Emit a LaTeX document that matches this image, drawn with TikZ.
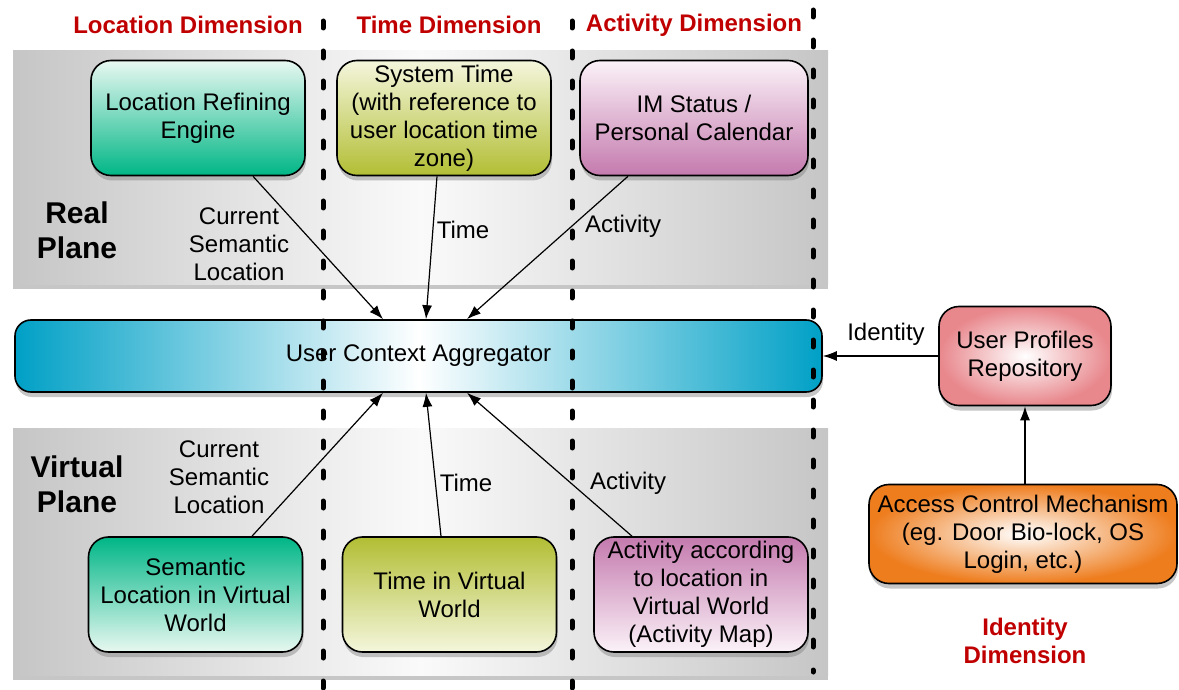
\documentclass[tikz,border=0pt]{standalone}
\usepackage{fontspec}
\setmainfont{Liberation Sans}
\usetikzlibrary{arrows.meta,shadows}
\definecolor{dimred}{RGB}{192,0,0}
\definecolor{greenbot}{RGB}{0,182,134}
\definecolor{greentop}{RGB}{232,248,241}
\definecolor{olivebot}{RGB}{178,190,52}
\definecolor{olivetop}{RGB}{244,246,220}
\definecolor{purpbot}{RGB}{196,122,174}
\definecolor{purptop}{RGB}{251,242,248}
\definecolor{aggblue}{RGB}{0,160,198}
\definecolor{pinkout}{RGB}{232,135,140}
\definecolor{orangeout}{RGB}{238,125,30}
\tikzset{plane/.style={left color=gray!45, right color=gray!45, middle color=gray!4,
    drop shadow={shadow xshift=0pt, shadow yshift=-2.5pt, opacity=.45}}}
\tikzset{box/.style={draw, line width=0.8pt, rounded corners=10pt, align=center,
    minimum width=107pt, minimum height=57.5pt, inner sep=2pt,
    font=\fontsize{12}{14}\selectfont,
    drop shadow={shadow xshift=0.5pt, shadow yshift=-2.5pt, opacity=.45}}}
\tikzset{flow/.style={line width=0.6pt, -{Latex[length=7pt,width=5pt]}}}
\tikzset{flowlabel/.style={align=center, inner sep=0pt, font=\fontsize{12}{14}\selectfont}}
\tikzset{dimlabel/.style={align=center, inner sep=0pt, text=dimred,
    font=\bfseries\fontsize{12}{14}\selectfont}}
\tikzset{planelabel/.style={align=center, inner sep=0pt,
    font=\bfseries\fontsize{15}{17.5}\selectfont}}
\tikzset{divider/.style={line width=2.5pt, line cap=round, dash pattern=on 3.5pt off 11.5pt}}

\begin{document}
\begin{tikzpicture}[x=0.5pt, y=-0.5pt]
  \useasboundingbox (0,0) rectangle (1179,690);
  % planes
  \path[plane] (13,51) rectangle (828,284);
  \path[plane] (13,428) rectangle (828,675);
  % dimension headings
  \node[dimlabel] (locdim) at (188,25) {Location Dimension};
  \node[dimlabel] (timedim) at (449,25) {Time Dimension};
  \node[dimlabel] (actdim) at (694,25) {Activity Dimension};
  \node[dimlabel] (iddim) at (1025,641) {Identity\\Dimension};
  \node[planelabel] (real) at (77,230) {Real\\Plane};
  \node[planelabel] (virtual) at (77,484) {Virtual\\Plane};
  % real plane
  \node[box, top color=greentop, bottom color=greenbot] (lre) at (198,118)
    {Location Refining\\Engine};
  \node[box, top color=olivetop, bottom color=olivebot] (systime) at (444,118)
    {System Time\\(with reference to\\user location time\\zone)};
  \node[box, minimum width=114pt, top color=purptop, bottom color=purpbot] (imstatus) at (694,118)
    {IM Status /\\Personal Calendar};
  % aggregator
  \node[box, minimum width=403.5pt, minimum height=36pt, rounded corners=8pt,
    left color=aggblue, right color=aggblue, middle color=white] (agg) at (418.5,356)
    {User Context Aggregator};
  % virtual plane
  \node[box, top color=greenbot, bottom color=greentop] (semloc) at (195.5,594.5)
    {Semantic\\Location in Virtual\\World};
  \node[box, top color=olivebot, bottom color=olivetop] (vtime) at (449.5,594.5)
    {Time in Virtual\\World};
  \node[box, top color=purpbot, bottom color=purptop] (vact) at (701,594.5)
    {Activity according\\to location in\\Virtual World\\(Activity Map)};
  % identity
  \node[box, minimum width=86pt, minimum height=49.5pt, inner color=white, outer color=pinkout]
    (profiles) at (1025,356) {User Profiles\\Repository};
  \node[box, minimum width=154pt, minimum height=49.5pt, inner color=white, outer color=orangeout]
    (access) at (1023,534) {Access Control Mechanism\\(eg. Door Bio-lock, OS\\Login, etc.)};
  % labels
  \node[flowlabel] (lblloc) at (239,244) {Current\\Semantic\\Location};
  \node[flowlabel] (lbltime) at (463,230) {Time};
  \node[flowlabel] (lblact) at (623,226) {Activity};
  \node[flowlabel] (lblvloc) at (219,477) {Current\\Semantic\\Location};
  \node[flowlabel] (lblvtime) at (466,483) {Time};
  \node[flowlabel] (lblvact) at (628,483) {Activity};
  \node[flowlabel] (lblid) at (886,334) {Identity};
  % arrows
  \draw[flow] ([xshift=27.5pt]lre.south) -- ([xshift=-17.75pt]agg.north);
  \draw[flow] ([xshift=-3.5pt]systime.south) -- ([xshift=3.75pt]agg.north);
  \draw[flow] ([xshift=-33pt]imstatus.south) -- ([xshift=24.25pt]agg.north);
  \draw[flow] ([xshift=28.25pt]semloc.north) -- ([xshift=-17.75pt]agg.south);
  \draw[flow] ([xshift=-4.25pt]vtime.north) -- ([xshift=3.75pt]agg.south);
  \draw[flow] ([xshift=-34.5pt]vact.north) -- ([xshift=24.25pt]agg.south);
  \draw[flow] (profiles) -- (agg);
  \draw[flow] ([xshift=1pt]access.north) -- (profiles);
  % dividers
  \draw[divider] (323,21) -- (323,695);
  \draw[divider] (572,21) -- (572,695);
  \draw[divider] (813,10) -- (813,672);
\end{tikzpicture}
\end{document}
